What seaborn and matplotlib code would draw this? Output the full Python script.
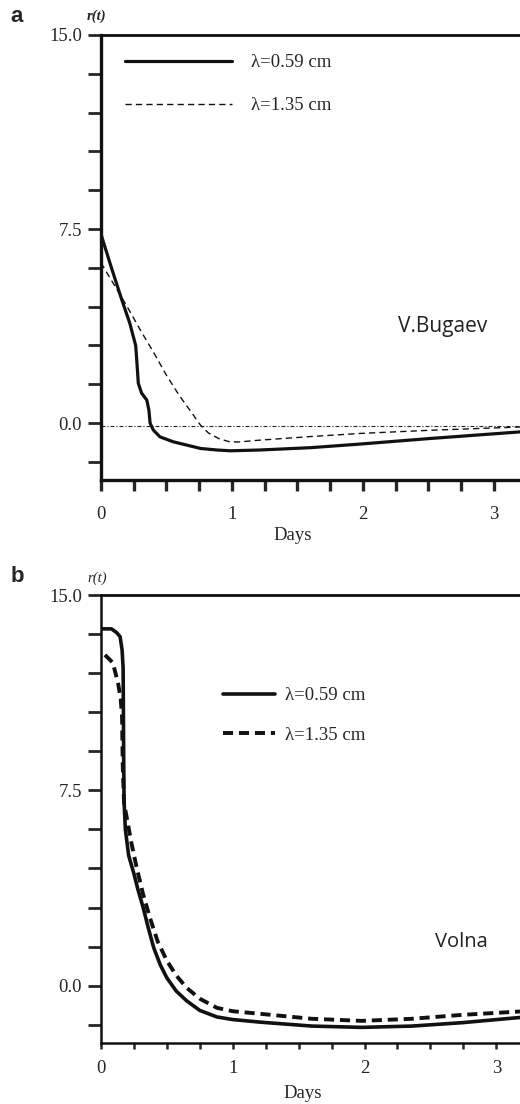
import numpy as np
import pandas as pd
import seaborn as sns
import matplotlib.pyplot as plt
from matplotlib.ticker import MultipleLocator, FixedLocator

# panel a: V.Bugaev
a_days_059 = [0, 0.08, 0.16, 0.22, 0.265, 0.275, 0.285, 0.31, 0.35, 0.366, 0.375, 0.40, 0.45, 0.55,
              0.655, 0.76, 0.885, 0.99, 1.21, 1.6, 1.98, 2.5, 3.2]
a_r_059 = [7.3, 6.0, 4.75, 3.86, 3.0, 2.3, 1.54, 1.16, 0.89, 0.5, 0.0, -0.27, -0.53, -0.72,
           -0.85, -0.98, -1.04, -1.07, -1.04, -0.95, -0.81, -0.6, -0.34]
a_days_135 = [0, 0.04, 0.1, 0.2, 0.3, 0.4, 0.5, 0.6, 0.7, 0.76, 0.82, 0.9, 0.98, 1.05, 1.21, 1.6, 1.98, 2.5, 3.2]
a_r_135 = [6.2, 5.85, 5.35, 4.5, 3.6, 2.75, 1.85, 1.05, 0.35, -0.08, -0.38, -0.6, -0.72, -0.73, -0.66,
           -0.52, -0.4, -0.28, -0.15]
a_zero = -0.1

# panel b: Volna
b_days_059 = [0, 0.08, 0.12, 0.145, 0.16, 0.168, 0.172, 0.175, 0.185, 0.21, 0.25, 0.28, 0.32, 0.36,
              0.4, 0.45, 0.5, 0.57, 0.65, 0.75, 0.88, 1.0, 1.21, 1.6, 1.98, 2.36, 2.74, 3.18]
b_r_059 = [13.7, 13.7, 13.55, 13.4, 12.9, 12.2, 9.0, 7.1, 6.0, 5.0, 4.3, 3.7, 3.0, 2.2,
           1.46, 0.8, 0.3, -0.2, -0.58, -0.95, -1.2, -1.3, -1.4, -1.55, -1.6, -1.55, -1.42, -1.22]
b_days_135 = [0.03, 0.09, 0.13, 0.15, 0.16, 0.165, 0.175, 0.195, 0.23, 0.27, 0.32, 0.37, 0.43, 0.5,
              0.57, 0.65, 0.75, 0.88, 1.0, 1.21, 1.6, 1.98, 2.36, 2.74, 3.18]
b_r_135 = [12.7, 12.4, 11.6, 11.0, 10.3, 8.5, 7.0, 6.47, 5.5, 4.55, 3.5, 2.63, 1.7, 0.96,
           0.4, -0.08, -0.5, -0.85, -0.98, -1.08, -1.27, -1.35, -1.27, -1.12, -0.99]

labels = ["λ=0.59 cm", "λ=1.35 cm"]
ytick_vals = [0.0, 7.5, 15.0]
xtick_vals = [0, 1, 2, 3]

sns.set_style("white")
plt.rcParams['font.family'] = ['Liberation Serif', 'DejaVu Serif']

fig = plt.figure(figsize=(5.2, 11.04), dpi=100)
ax_a = fig.add_axes([0.1942, 0.5652, 0.8058, 0.4031])
ax_b = fig.add_axes([0.1942, 0.05525, 0.8058, 0.4058])


def style_axis(ax, xmax, spine_w, xtick_len, xpad):
    ax.set_xlim(0, xmax)
    ax.set_ylim(-2.2, 15)
    ax.spines['right'].set_visible(False)
    for s in ['left', 'bottom']:
        ax.spines[s].set_linewidth(spine_w)
    ax.spines['top'].set_linewidth(2.0)
    for s in ax.spines.values():
        s.set_color('#111111')
    ax.xaxis.set_major_locator(FixedLocator(xtick_vals))
    ax.xaxis.set_minor_locator(MultipleLocator(0.25))
    ax.set_xticklabels([str(v) for v in xtick_vals])
    ax.yaxis.set_major_locator(FixedLocator(ytick_vals))
    ax.yaxis.set_minor_locator(MultipleLocator(1.5))
    ax.set_yticklabels(["%.1f" % v for v in ytick_vals])
    ax.tick_params(axis='x', which='both', direction='out', length=xtick_len,
                   width=spine_w, pad=xpad, labelsize=13.5, bottom=True, top=False)
    ax.tick_params(axis='y', which='both', direction='out', length=9.5,
                   width=2, pad=4, labelsize=13.5, left=True, right=False)
    ax.set_xlabel("")
    ax.set_ylabel("")
    ax.grid(False)


# panel a
sns.lineplot(x=a_days_059, y=a_r_059, ax=ax_a, color='#111111', lw=2.3,
             estimator=None, sort=False, label=labels[0])
sns.lineplot(x=a_days_135, y=a_r_135, ax=ax_a, color='#111111', lw=1.0,
             estimator=None, sort=False, label=labels[1])
ax_a.lines[-1].set_dashes([4.5, 3])
ax_a.axhline(a_zero, color='#222222', lw=0.8, dashes=[3.5, 1.8, 1, 1.8])
style_axis(ax_a, 3.2, 2.4, 8, 10.5)
leg = ax_a.legend(loc='upper left', bbox_to_anchor=(0.036, 0.978), frameon=False,
                  fontsize=13.5, handlelength=5.7, handletextpad=1.0,
                  labelspacing=1.38, borderaxespad=0.0, borderpad=0.5)
for ln in leg.get_lines():
    ln.set_color('#111111')
ax_a.text(0.816, 0.344, "V.Bugaev", transform=ax_a.transAxes, ha='center',
          va='center', fontsize=15, family=['Open Sans', 'DejaVu Sans'], color='#222222')
fig.text(293 / 520, 1 - 536 / 1104, "Days", ha='center', va='center', fontsize=13.5)

# panel b
sns.lineplot(x=b_days_059, y=b_r_059, ax=ax_b, color='#111111', lw=2.6,
             estimator=None, sort=False, label=labels[0])
sns.lineplot(x=b_days_135, y=b_r_135, ax=ax_b, color='#111111', lw=2.8,
             estimator=None, sort=False, label=labels[1])
ax_b.lines[-1].set_dashes([2.6, 1.5])
style_axis(ax_b, 3.18, 1.8, 4, 8.5)
leg = ax_b.legend(loc='upper left', bbox_to_anchor=(0.278, 0.807), frameon=False,
                  fontsize=13.5, handlelength=2.75, handletextpad=0.55,
                  labelspacing=1.2, borderaxespad=0.0, borderpad=0.3)
ax_b.text(0.859, 0.226, "Volna", transform=ax_b.transAxes, ha='center',
          va='center', fontsize=14.5, family=['Open Sans', 'DejaVu Sans'], color='#222222')
fig.text(303 / 520, 1 - 1093 / 1104, "Days", ha='center', va='center', fontsize=13.5)

# panel letters and y-axis titles
fig.text(17 / 520, 1 - 16 / 1104, "a", ha='center', va='center', fontsize=16,
         fontweight='bold', family=['Liberation Sans', 'DejaVu Sans'])
fig.text(17 / 520, 1 - 577 / 1104, "b", ha='center', va='center', fontsize=16,
         fontweight='bold', family=['Liberation Sans', 'DejaVu Sans'])
fig.text(97 / 520, 1 - 16 / 1104, "r(t)", ha='center', va='center', fontsize=10.5,
         style='italic', fontweight='bold')
fig.text(97 / 520, 1 - 578 / 1104, "r(t)", ha='center', va='center', fontsize=10.5,
         style='italic')

fig.savefig("out.png", dpi=100)
